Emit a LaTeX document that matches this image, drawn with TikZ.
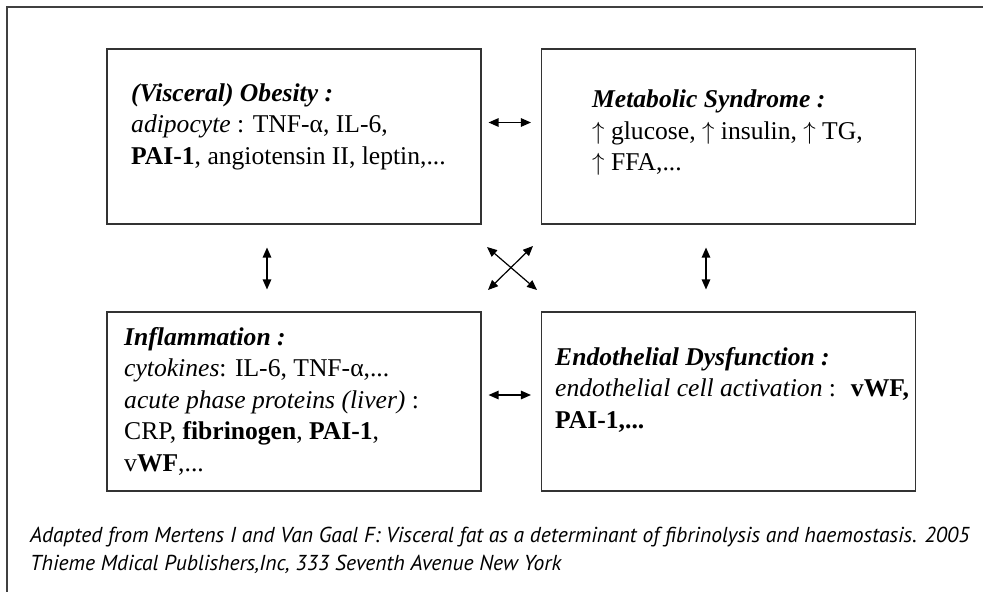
\documentclass[tikz,border=0pt]{standalone}
\usepackage{fontspec}
\setmainfont{Liberation Serif}
\newfontfamily\capfont{PT Sans}
\usetikzlibrary{arrows.meta}
\usetikzlibrary{positioning}

\tikzset{
  box/.style={draw=black!80, line width=1.1pt, inner sep=0pt, minimum width=374pt, minimum height=175pt},
  txt/.style={anchor=north west, align=left, inner sep=0pt, font=\fontsize{25.6}{31.5}\selectfont},
  both/.style={{Triangle[length=10pt,width=8.5pt]}-{Triangle[length=10pt,width=8.5pt]}, line width=1.2pt},
}

\begin{document}
\begin{tikzpicture}[x=1pt, y=-1pt]
          \useasboundingbox (0,0) rectangle (983,592);
          \draw [line width=1.4pt, black!75] (983,7) -- (7,7) -- (7,592);

          \node [box] (obesity) at (294,136.5) {};
          \node [box] (metabolic) at (728.5,136.5) {};
          \node [box, minimum height=179pt] (inflammation) at (294,401.5) {};
          \node [box, minimum height=179pt] (endothelial) at (728.5,401.5) {};

          \node [txt] (obesitytext) at (131,83.5) {\textbf{\textit{(Visceral) Obesity :}}\\ \textit{adipocyte} : TNF-α, IL-6,\\ \textbf{PAI-1}, angiotensin II, leptin,...};
          \node [txt] (metabolictext) at (592,90) {\textbf{\textit{Metabolic Syndrome :}}\\ $\uparrow$ glucose, $\uparrow$ insulin, $\uparrow$ TG,\\ $\uparrow$ FFA,...};
          \node [txt] (inflammationtext) at (124,327) {\textbf{\textit{Inflammation :}}\\ \textit{cytokines}: IL-6, TNF-α,...\\ \textit{acute phase proteins (liver)} :\\ CRP, \textbf{fibrinogen}, \textbf{PAI-1},\\ v\textbf{WF},...};
          \node [txt] (endothelialtext) at (555,347) {\textbf{\textit{Endothelial Dysfunction :}}\\ \textit{endothelial cell activation} :~ \textbf{vWF,}\\ \textbf{PAI-1,...}};

          \draw [both, shorten <=7pt, shorten >=10pt] ([yshift=14pt]obesity.east) -- ([yshift=14pt]metabolic.west);
          \draw [both, shorten <=7pt, shorten >=10pt] ([yshift=6.5pt]inflammation.east) -- ([yshift=6.5pt]endothelial.west);
          \draw [both, shorten <=23pt, shorten >=22pt] ([xshift=-27pt]obesity.south) -- ([xshift=-27pt]inflammation.north);
          \draw [both, shorten <=23pt, shorten >=22pt] ([xshift=-22.5pt]metabolic.south) -- ([xshift=-22.5pt]endothelial.north);

          \coordinate (crossnw) at (487,247);
          \coordinate (crossse) at (537,290);
          \coordinate (crossne) at (533,246);
          \coordinate (crosssw) at (488,290);
          \draw [both] (crossnw) -- (crossse);
          \draw [both] (crossne) -- (crosssw);

          \node [anchor=north west, align=left, inner sep=0pt, font=\capfont\itshape\fontsize{21.6}{28}\selectfont] (source) at (30,526.5) {Adapted from Mertens I and Van Gaal F: Visceral fat as a determinant of fibrinolysis and haemostasis. 2005\\ Thieme Mdical Publishers,Inc, 333 Seventh Avenue New York};
        \end{tikzpicture}
\end{document}
